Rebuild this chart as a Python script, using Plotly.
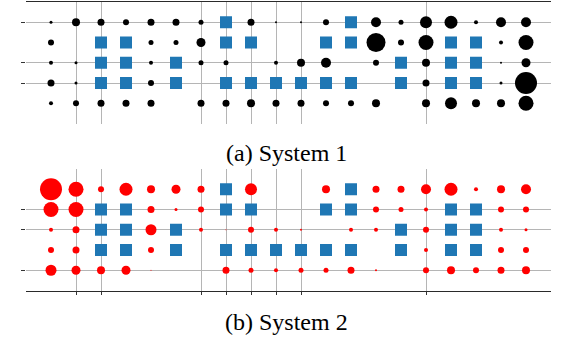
import plotly.graph_objects as go

# ---- data -------------------------------------------------------------
columns = list(range(1, 21))
rows = [1, 2, 3, 4, 5]

# bubble magnitudes per row (0 = no bubble, None = square cell)
S = None
system1_values = [
    [3, 8, 7, 6, 7, 7, 5, S, 7, 2, 2, 6, S, 10, 5, 12, 13, 4, 10, 10],
    [6, 0, S, S, 5, 5, 9, S, S, 0, 0, S, S, 19, 6, 15, S, S, 4, 15],
    [4, 3, S, S, 4, S, 5, 5, 0, 4, 8, 10, 0, 6, S, 8, S, S, 2, 9],
    [7, 3, S, S, 6, S, 0, S, S, S, S, S, S, 0, S, 7, S, S, 3, 22],
    [4, 6, 7, 7, 7, 0, 7, 7, 8, 7, 7, 6, 6, 8, 0, 8, 12, 8, 8, 15],
]
system2_values = [
    [22, 15, 6, 13, 8, 9, 7, S, 12, 0, 0, 8, S, 7, 7, 10, 13, 4, 8, 10],
    [15, 15, S, S, 7, 3, 6, S, S, 0, 0, S, S, 6, 5, 4, S, S, 6, 6],
    [4, 7, S, S, 11, S, 4, 1, 6, 4, 2, 0, 4, 4, S, 6, S, S, 4, 3],
    [6, 7, S, S, 6, S, 0, S, S, S, S, S, S, 0, S, 4, S, S, 6, 6],
    [11, 9, 8, 9, 1, 0, 0, 7, 5, 4, 5, 5, 7, 2, 0, 6, 8, 6, 7, 8],
]

# columns holding a square marker, per row
square_columns = [
    [8, 13],
    [3, 4, 8, 9, 12, 13, 17, 18],
    [3, 4, 6, 15, 17, 18],
    [3, 4, 6, 8, 9, 10, 11, 12, 13, 15, 17, 18],
    [],
]

x_grid_ticks = [2, 3, 7, 8, 9, 10, 11, 16]
y_grid_ticks_1 = [1, 3, 4]
y_grid_ticks_2 = [2, 3, 5]

captions = ["(a) System 1", "(b) System 2"]

# ---- figure -----------------------------------------------------------
fig = go.Figure()


def add_panel(values, color, xa, ya):
    bx, by, bs = [], [], []
    for r, rowvals in zip(rows, values):
        for c, v in zip(columns, rowvals):
            if v:
                bx.append(c)
                by.append(r)
                bs.append(v)
    fig.add_trace(go.Scatter(
        x=bx, y=by, mode="markers", xaxis=xa, yaxis=ya,
        marker=dict(size=bs, sizemode="diameter", sizeref=1, color=color,
                    opacity=1, line=dict(width=0)),
        showlegend=False, hoverinfo="skip"))
    sx, sy = [], []
    for r, cols in zip(rows, square_columns):
        for c in cols:
            sx.append(c)
            sy.append(r)
    fig.add_trace(go.Scatter(
        x=sx, y=sy, mode="markers", xaxis=xa, yaxis=ya,
        marker=dict(symbol="square", size=12, color="#1f77b4", opacity=1,
                    line=dict(width=0)),
        showlegend=False, hoverinfo="skip"))


add_panel(system1_values, "#000000", "x", "y")
add_panel(system2_values, "#ff0000", "x2", "y2")

H = 360.0
grid = "#b5b5b5"
axis_common = dict(range=[0, 21], tickvals=x_grid_ticks, showticklabels=False,
                   showgrid=True, gridcolor=grid, gridwidth=1, zeroline=False,
                   fixedrange=True)
fig.update_layout(
    width=580, height=360,
    margin=dict(l=26, r=29, t=0, b=0),
    paper_bgcolor="white", plot_bgcolor="white",
    hovermode=False, dragmode=False,
    xaxis=dict(**axis_common, anchor="y", side="top", showline=True,
               linecolor="#2a2a2a", linewidth=1.2, ticks=""),
    yaxis=dict(domain=[1 - 123.5 / H, 1 - 2 / H], range=[6, 0],
               tickvals=y_grid_ticks_1, showticklabels=False, showgrid=True,
               gridcolor=grid, gridwidth=1, zeroline=False, showline=False,
               ticks="outside", ticklen=4, tickcolor="#333", tickwidth=1,
               fixedrange=True),
    xaxis2=dict(**axis_common, anchor="y2", side="bottom", showline=True,
                linecolor="#2a2a2a", linewidth=1.2, ticks="outside",
                ticklen=3, tickcolor="#333", tickwidth=1),
    yaxis2=dict(domain=[1 - 290.5 / H, 1 - 169 / H], range=[6, 0],
                tickvals=y_grid_ticks_2, showticklabels=False, showgrid=True,
                gridcolor=grid, gridwidth=1, zeroline=False, showline=False,
                ticks="outside", ticklen=4, tickcolor="#333", tickwidth=1,
                fixedrange=True),
)

for text, yc in zip(captions, [153, 322]):
    fig.add_annotation(text=text, xref="paper", yref="paper",
                       x=(286 - 26) / 525.0, y=1 - yc / H,
                       xanchor="center", yanchor="middle", showarrow=False,
                       font=dict(family="Liberation Serif", size=24,
                                 color="#000"))

fig.write_html("out.html",
               config={"displayModeBar": False, "staticPlot": True},
               post_script="document.body.style.margin='0px';"
                           "document.body.style.overflow='hidden';")
